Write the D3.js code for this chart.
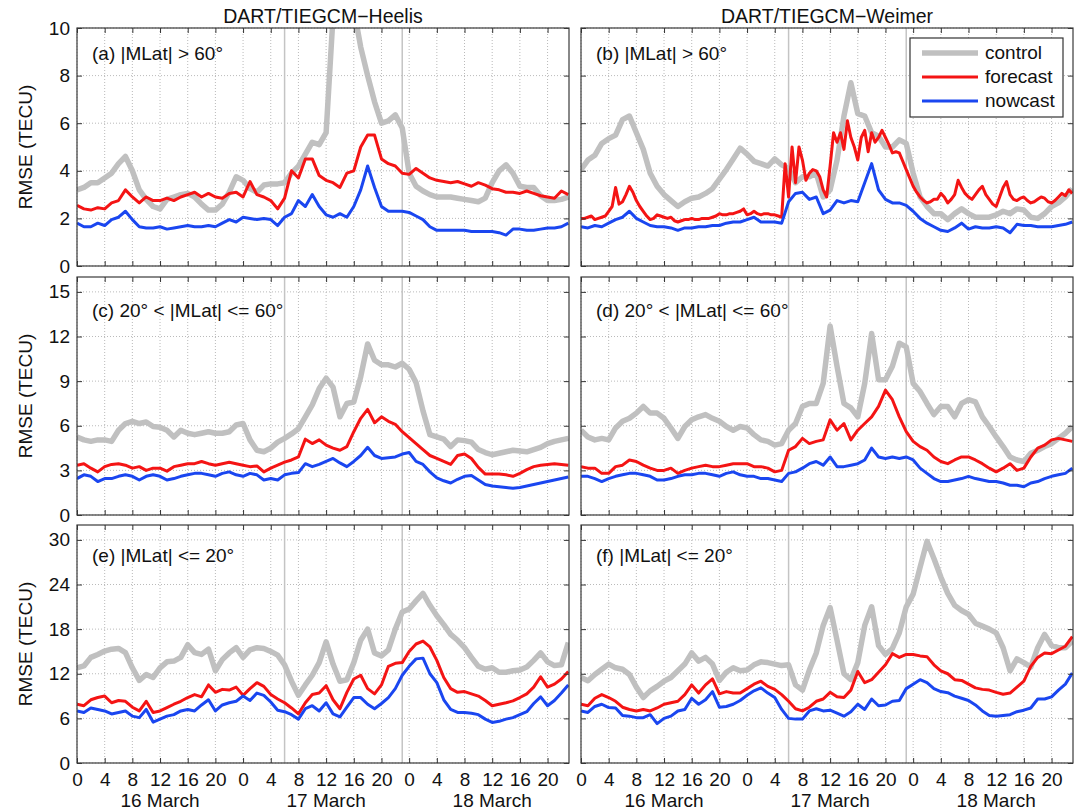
<!DOCTYPE html>
<html>
<head>
<meta charset="utf-8">
<script src="https://cdn.jsdelivr.net/npm/d3@7"></script>
<style>
  body { margin: 0; background: #fff; }
  svg { display: block; font-family: "Liberation Sans", Arial, sans-serif; }
  .tick text { font-size: 19px; fill: #111; }
</style>
</head>
<body>
<svg id="chart" width="1079" height="811"></svg>
<script>
/* axis setup */
const tickHours = [0, 4, 8, 12, 16, 20, 24, 28, 32, 36, 40, 44, 48, 52, 56, 60, 64, 68];
const dayLabels = ["16 March", "17 March", "18 March"];
const dayCentres = [12, 36, 60];
const markerHours = [30, 47];
const columnTitles = ["DART/TIEGCM\u2212Heelis", "DART/TIEGCM\u2212Weimer"];
const rowMax = [10, 16, 32];
const rowTicks = [[0, 2, 4, 6, 8, 10], [0, 3, 6, 9, 12, 15], [0, 6, 12, 18, 24, 30]];
const panelLabels = [
  "(a) |MLat| > 60\u00b0", "(b) |MLat| > 60\u00b0",
  "(c) 20\u00b0 < |MLat| <= 60\u00b0", "(d) 20\u00b0 < |MLat| <= 60\u00b0",
  "(e) |MLat| <= 20\u00b0", "(f) |MLat| <= 20\u00b0"
];
const seriesNames = ["control", "forecast", "nowcast"];

/* hourly RMSE values (TECU), 16 March 00 UT to 18 March 23 UT */
const controlA = [3.2, 3.3, 3.5, 3.5, 3.7, 3.9, 4.3, 4.6, 4.0, 3.2, 2.8, 2.5,
  2.4, 2.8, 2.9, 3.0, 3.05, 2.9, 2.6, 2.35, 2.35, 2.6, 3.1, 3.75,
  3.6, 3.25, 3.1, 3.4, 3.45, 3.45, 3.5, 3.9, 4.2, 4.7, 5.2, 5.1,
  5.6, 10.5, 12, 12.5, 10.8, 9.2, 8.0, 6.9, 6.0, 6.1, 6.35, 5.8,
  3.9, 3.35, 3.15, 3.0, 2.9, 2.9, 2.9, 2.85, 2.8, 2.75, 2.7, 2.85,
  3.5, 4.0, 4.25, 3.9, 3.35, 3.3, 3.3, 2.95, 2.75, 2.75, 2.8, 2.9];
const forecastA = [2.55, 2.4, 2.35, 2.45, 2.4, 2.65, 2.75, 3.2, 2.9, 2.65, 2.9, 2.75,
  2.75, 2.85, 2.75, 2.9, 3.0, 3.1, 2.9, 3.05, 2.9, 2.85, 3.05, 3.1,
  2.9, 3.55, 3.0, 2.9, 2.75, 2.4, 2.85, 4.0, 3.7, 4.5, 4.5, 3.8,
  3.6, 3.5, 3.3, 3.9, 4.0, 5.0, 5.5, 5.5, 4.5, 4.3, 4.2, 3.9,
  3.85, 4.1, 3.9, 3.7, 3.6, 3.55, 3.5, 3.55, 3.45, 3.35, 3.5, 3.4,
  3.25, 3.2, 3.1, 3.1, 3.05, 3.15, 3.05, 2.95, 2.9, 2.85, 3.15, 3.0];
const nowcastA = [1.8, 1.65, 1.65, 1.8, 1.7, 1.95, 2.05, 2.3, 1.95, 1.65, 1.6, 1.6,
  1.65, 1.55, 1.6, 1.65, 1.7, 1.65, 1.65, 1.7, 1.65, 1.8, 1.95, 1.85,
  2.05, 2.0, 1.95, 2.0, 1.95, 1.7, 2.05, 2.2, 2.75, 2.5, 3.0, 2.5,
  2.15, 2.05, 2.2, 2.05, 2.5, 3.2, 4.2, 3.3, 2.5, 2.3, 2.3, 2.3,
  2.25, 2.1, 1.95, 1.65, 1.5, 1.5, 1.5, 1.5, 1.5, 1.45, 1.45, 1.45,
  1.45, 1.4, 1.3, 1.55, 1.55, 1.5, 1.5, 1.55, 1.6, 1.6, 1.65, 1.8];

const controlB = [4.05, 4.45, 4.65, 5.15, 5.35, 5.5, 6.15, 6.3, 5.6, 4.9, 3.9, 3.35,
  3.0, 2.75, 2.5, 2.7, 2.85, 2.9, 3.05, 3.25, 3.65, 4.05, 4.5, 4.95,
  4.7, 4.4, 4.3, 4.2, 4.5, 4.25, 4.1, 3.5, 3.75, 3.75, 3.9, 2.9,
  3.2, 4.45, 6.3, 7.7, 6.4, 6.3, 5.6, 5.45, 5.0, 5.0, 5.3, 5.15,
  3.9, 2.9, 2.5, 2.2, 2.2, 1.95, 2.2, 2.4, 2.2, 2.05, 2.05, 2.05,
  2.15, 2.3, 2.2, 2.4, 2.35, 2.05, 2.0, 2.2, 2.5, 2.65, 2.9, 3.25];
/* half-hourly: the Weimer forecast is spiky */
const forecastB = [2.0, 2.0, 2.05, 2.1, 1.95, 2.0, 2.05, 2.1, 2.3, 2.5,
  3.3, 2.6, 2.7, 3.0, 3.35, 3.1, 2.75, 2.5, 2.3, 2.1,
  1.95, 2.0, 2.15, 2.1, 2.05, 2.0, 2.05, 1.9, 1.85, 1.9,
  1.95, 1.95, 2.0, 1.95, 1.95, 2.0, 2.0, 2.0, 2.05, 2.1,
  2.2, 2.15, 2.15, 2.2, 2.2, 2.25, 2.3, 2.4, 2.15, 2.2,
  2.3, 2.2, 2.15, 2.2, 2.2, 2.15, 2.15, 2.1, 2.05, 4.3,
  2.9, 5.0, 3.5, 5.0, 4.45, 3.6, 3.9, 4.05, 4.0, 3.75,
  3.2, 2.9, 4.2, 5.6, 5.2, 5.6, 4.9, 6.1, 5.4, 5.0,
  4.45, 5.4, 5.7, 4.8, 5.6, 5.2, 5.4, 5.7, 5.4, 5.1,
  4.75, 4.8, 4.75, 4.4, 4.05, 3.7, 3.35, 3.1, 2.9, 2.75,
  2.65, 2.7, 2.8, 2.8, 3.05, 2.9, 2.65, 2.8, 3.0, 3.6,
  3.3, 3.05, 2.9, 2.8, 3.0, 3.2, 3.35, 3.0, 2.8, 2.6,
  2.5, 2.9, 3.3, 3.55, 3.0, 2.8, 2.75, 2.85, 2.9, 2.75,
  2.65, 2.7, 2.8, 2.9, 2.85, 2.7, 2.65, 2.75, 2.9, 3.05,
  2.95, 3.2, 3.05];
const nowcastB = [1.65, 1.6, 1.7, 1.65, 1.8, 1.95, 2.05, 2.3, 2.0, 1.85, 1.7, 1.65,
  1.65, 1.6, 1.5, 1.6, 1.6, 1.65, 1.65, 1.7, 1.7, 1.8, 1.85, 1.85,
  1.95, 2.05, 1.85, 1.85, 1.85, 1.8, 2.7, 3.05, 3.1, 2.8, 2.9, 2.2,
  2.35, 2.75, 2.65, 2.75, 2.7, 3.5, 4.3, 3.2, 2.8, 2.65, 2.65, 2.55,
  2.3, 2.0, 1.8, 1.65, 1.5, 1.45, 1.6, 1.8, 1.55, 1.65, 1.6, 1.6,
  1.65, 1.6, 1.4, 1.75, 1.7, 1.7, 1.65, 1.65, 1.65, 1.7, 1.75, 1.85];

const controlC = [5.25, 5.05, 4.95, 5.05, 5.05, 4.95, 5.7, 6.15, 6.3, 6.15, 6.25, 5.95,
  5.9, 5.7, 5.25, 5.7, 5.5, 5.4, 5.5, 5.6, 5.5, 5.5, 5.6, 6.05,
  6.15, 5.05, 4.35, 4.25, 4.5, 4.9, 5.15, 5.45, 5.8, 6.6, 7.4, 8.5,
  9.2, 8.6, 6.6, 7.5, 7.6, 9.3, 11.5, 10.4, 10.1, 10.1, 9.95, 10.2,
  9.8, 8.9, 7.0, 5.4, 5.25, 5.1, 4.6, 5.05, 5.0, 4.9, 4.4, 4.2,
  4.05, 4.15, 4.25, 4.35, 4.3, 4.25, 4.4, 4.55, 4.8, 4.95, 5.05, 5.15];
const forecastC = [3.35, 3.45, 3.15, 2.9, 3.25, 3.4, 3.45, 3.35, 3.15, 3.25, 3.0, 3.15,
  3.15, 2.95, 3.25, 3.35, 3.45, 3.45, 3.6, 3.45, 3.35, 3.45, 3.55, 3.45,
  3.35, 3.25, 3.3, 2.9, 3.15, 3.35, 3.55, 3.7, 3.9, 5.1, 4.8, 5.05,
  4.7, 4.5, 4.35, 4.6, 5.6, 6.5, 7.1, 6.2, 6.6, 6.3, 6.1, 5.6,
  5.2, 4.8, 4.4, 4.0, 3.8, 3.6, 3.4, 4.0, 4.1, 3.8, 3.2, 2.75,
  2.75, 2.75, 2.7, 2.6, 2.8, 3.05, 3.25, 3.35, 3.4, 3.45, 3.4, 3.35];
const nowcastC = [2.45, 2.7, 2.6, 2.25, 2.45, 2.45, 2.6, 2.7, 2.6, 2.35, 2.6, 2.7,
  2.6, 2.35, 2.45, 2.6, 2.7, 2.8, 2.8, 2.7, 2.6, 2.8, 2.9, 2.7,
  2.6, 2.8, 2.7, 2.35, 2.45, 2.35, 2.7, 2.8, 2.85, 3.45, 3.25, 3.4,
  3.6, 3.8, 3.5, 3.25, 3.6, 4.0, 4.55, 4.0, 3.8, 3.85, 3.9, 4.1,
  4.2, 3.6, 3.4, 2.9, 2.5, 2.3, 2.15, 2.4, 2.6, 2.65, 2.35, 2.05,
  1.95, 1.9, 1.85, 1.8, 1.85, 1.95, 2.05, 2.15, 2.25, 2.35, 2.45, 2.55];

const controlD = [5.7, 5.25, 5.05, 5.15, 5.05, 5.85, 6.3, 6.5, 6.85, 7.3, 6.85, 6.85,
  6.5, 5.85, 5.15, 5.95, 6.4, 6.6, 6.75, 6.5, 6.3, 5.95, 5.7, 5.95,
  5.85, 5.4, 5.05, 4.95, 4.7, 4.8, 5.7, 6.15, 7.3, 7.5, 7.5, 8.85,
  12.7, 10.0, 7.5, 7.2, 6.6, 8.85, 12.2, 9.1, 9.1, 10.0, 11.55, 11.3,
  8.85, 8.3, 7.5, 6.75, 7.3, 7.3, 6.6, 7.5, 7.75, 7.6, 6.6, 5.95,
  5.25, 4.6, 3.9, 3.7, 3.6, 4.15, 4.35, 4.6, 4.8, 5.15, 5.5, 5.95];
const forecastD = [3.25, 3.15, 3.15, 2.8, 2.8, 3.25, 3.35, 3.7, 3.6, 3.35, 3.15, 3.0,
  3.0, 3.15, 2.8, 3.0, 3.15, 3.25, 3.35, 3.25, 3.25, 3.35, 3.45, 3.45,
  3.45, 3.25, 3.25, 3.15, 2.9, 3.0, 4.35, 4.6, 5.15, 4.8, 4.95, 5.05,
  6.4, 5.7, 6.15, 5.05, 5.7, 6.15, 6.6, 7.3, 8.4, 7.75, 6.6, 5.6,
  4.95, 4.6, 4.35, 3.9, 3.6, 3.45, 3.7, 3.9, 3.9, 3.7, 3.45, 3.15,
  2.9, 3.15, 3.45, 3.0, 3.15, 3.9, 4.5, 4.7, 5.05, 5.15, 5.05, 4.95];
const nowcastD = [2.6, 2.6, 2.45, 2.25, 2.45, 2.6, 2.7, 2.8, 2.8, 2.7, 2.6, 2.35,
  2.35, 2.45, 2.6, 2.7, 2.7, 2.8, 2.8, 2.7, 2.6, 2.8, 2.9, 2.7,
  2.6, 2.6, 2.45, 2.45, 2.35, 2.25, 2.8, 2.9, 3.15, 3.45, 3.6, 3.35,
  3.9, 3.25, 3.25, 3.35, 3.45, 3.7, 4.5, 3.9, 3.8, 3.9, 3.8, 3.9,
  3.7, 3.15, 2.8, 2.45, 2.25, 2.25, 2.35, 2.45, 2.6, 2.45, 2.35, 2.25,
  2.25, 2.15, 2.0, 2.0, 1.9, 2.15, 2.25, 2.45, 2.6, 2.7, 2.8, 3.15];

const controlE = [12.8, 13.05, 14.2, 14.6, 15.05, 15.3, 15.4, 14.85, 12.8, 11.1, 11.9, 11.5,
  12.8, 13.6, 13.7, 14.2, 15.9, 14.85, 14.6, 15.3, 12.4, 13.9, 14.8, 15.5,
  14.2, 15.2, 15.5, 15.4, 15.0, 14.5, 13.2, 11.0, 9.1, 10.5, 11.8, 13.5,
  16.3, 13.3, 11.0, 11.2, 13.5, 16.5, 18.0, 14.8, 14.4, 15.2, 18.0, 20.3,
  20.7, 21.8, 22.8, 21.2, 19.8, 18.6, 17.3, 16.5, 15.5, 14.2, 13.0, 12.6,
  12.8, 12.2, 12.2, 12.4, 12.5, 12.9, 13.8, 14.8, 13.6, 13.1, 13.2, 16.2];
const forecastE = [7.9, 7.7, 8.5, 8.8, 9.0, 8.1, 8.4, 8.3, 7.5, 7.0, 8.3, 6.8,
  7.0, 7.45, 7.9, 8.3, 8.8, 9.2, 8.9, 10.5, 9.5, 9.9, 9.8, 10.2,
  9.1, 10.0, 10.8, 10.3, 9.2, 8.6, 8.1, 7.4, 6.6, 8.1, 9.2, 9.4,
  10.4, 8.5, 7.3, 9.5, 11.3, 11.8, 10.0, 9.3, 10.5, 13.0, 13.4, 13.5,
  15.0, 16.0, 16.4, 15.6, 13.8, 11.5, 10.0, 9.5, 9.6, 9.3, 9.0, 8.4,
  7.7, 7.9, 8.1, 8.35, 8.8, 9.3, 10.2, 11.6, 10.2, 10.6, 11.3, 12.3];
const nowcastE = [7.0, 6.8, 7.4, 7.2, 7.0, 6.6, 6.8, 7.0, 6.3, 6.1, 7.2, 5.5,
  5.9, 6.3, 6.5, 7.0, 7.2, 7.0, 7.8, 8.5, 7.0, 7.8, 8.1, 8.3,
  9.0, 8.4, 9.4, 9.1, 8.2, 7.1, 6.9, 6.5, 5.9, 7.3, 7.7, 7.0,
  8.1, 6.6, 6.2, 7.5, 8.8, 8.8, 7.9, 7.3, 8.0, 8.8, 10.0, 11.8,
  13.0, 14.0, 14.1, 12.0, 10.8, 8.5, 7.2, 6.8, 6.8, 6.7, 6.5, 5.9,
  5.45, 5.6, 5.9, 6.1, 6.5, 6.9, 8.0, 8.9, 7.7, 8.4, 9.4, 10.5];

const controlF = [11.5, 11.05, 11.9, 12.6, 13.3, 12.8, 12.6, 11.9, 10.2, 8.8, 9.7, 10.3,
  11.0, 11.5, 12.4, 13.3, 14.8, 13.7, 14.2, 13.3, 11.1, 12.2, 12.8, 12.4,
  12.5, 13.2, 13.6, 13.5, 13.3, 13.1, 13.2, 10.5, 9.8, 12.5, 14.8, 18.5,
  20.9, 16.5, 12.0, 11.2, 13.5, 18.5, 21.0, 15.8, 14.6, 15.4, 17.5, 21.0,
  22.7, 26.3, 29.8, 27.5, 25.0, 22.8, 21.2, 20.5, 20.0, 18.8, 18.4, 18.0,
  17.5, 15.5, 12.4, 14.0, 13.5, 12.9, 15.5, 17.3, 15.8, 15.5, 15.5, 16.4];
const forecastF = [7.9, 7.7, 8.7, 9.2, 8.8, 8.3, 7.5, 7.2, 7.0, 7.2, 7.0, 7.4,
  7.9, 8.1, 8.3, 9.2, 10.5, 9.4, 10.5, 11.3, 9.3, 9.6, 9.4, 9.4,
  10.0, 10.6, 11.0, 10.3, 9.9, 9.2, 8.3, 7.3, 7.0, 7.5, 8.3, 8.6,
  9.5, 8.9, 8.8, 9.8, 12.3, 10.8, 11.2, 12.2, 13.2, 14.7, 14.2, 14.6,
  14.6, 14.4, 14.3, 13.2, 12.4, 12.0, 11.2, 11.1, 10.6, 10.1, 9.9, 9.8,
  9.5, 9.25, 9.4, 10.2, 11.0, 13.0, 14.2, 14.8, 14.7, 15.2, 15.7, 17.0];
const nowcastF = [7.0, 6.8, 7.6, 7.9, 7.45, 7.4, 6.4, 6.3, 6.1, 6.1, 6.5, 5.3,
  6.0, 6.3, 7.0, 7.2, 8.7, 7.9, 8.5, 9.6, 7.5, 7.6, 7.9, 8.4,
  9.1, 9.7, 10.1, 9.4, 8.8, 7.2, 6.0, 5.9, 5.9, 7.0, 7.3, 7.0,
  7.1, 6.7, 6.3, 6.9, 7.9, 7.2, 8.6, 7.7, 7.8, 8.3, 8.4, 10.0,
  10.6, 11.2, 10.8, 10.0, 9.6, 9.45, 9.0, 8.7, 8.4, 7.8, 7.0, 6.4,
  6.3, 6.4, 6.5, 6.9, 7.1, 7.4, 8.6, 8.6, 8.9, 9.8, 10.6, 12.1];

const panelSeries = [
  [controlA, forecastA, nowcastA], [controlB, forecastB, nowcastB],
  [controlC, forecastC, nowcastC], [controlD, forecastD, nowcastD],
  [controlE, forecastE, nowcastE], [controlF, forecastF, nowcastF]
];

// layout
const colLeft = [77, 581];
const plotW = 492;
const rowTop = [28, 277, 525];
const plotH = 238;
const labelOffset = [32, 40, 37];
const lastHour = 71;
const colors = { control: "#c0c0c0", forecast: "#f41414", nowcast: "#1a46f0" };
const widths = { control: 5.5, forecast: 3, nowcast: 3 };

const svg = d3.select("#chart");
svg.append("rect").attr("width", 1079).attr("height", 811).attr("fill", "#fff");

const x = d3.scaleLinear().domain([0, 71.1]).range([0, plotW]);

panelSeries.forEach((series, p) => {
  const row = Math.floor(p / 2), col = p % 2;
  const y = d3.scaleLinear().domain([0, rowMax[row]]).range([plotH, 0]);
  const g = svg.append("g").attr("transform", `translate(${colLeft[col]},${rowTop[row]})`);

  const clipId = `clip-${p}`;
  g.append("clipPath").attr("id", clipId)
    .append("rect").attr("width", plotW).attr("height", plotH);

  // dotted grid
  g.append("g").selectAll("line").data(tickHours).join("line")
    .attr("x1", d => x(d)).attr("x2", d => x(d))
    .attr("y1", 0).attr("y2", plotH)
    .attr("stroke", "#a8a8a8").attr("stroke-width", 0.8).attr("stroke-dasharray", "1,2");
  g.append("g").selectAll("line").data(rowTicks[row]).join("line")
    .attr("x1", 0).attr("x2", plotW)
    .attr("y1", d => y(d)).attr("y2", d => y(d))
    .attr("stroke", "#a8a8a8").attr("stroke-width", 0.8).attr("stroke-dasharray", "1,2");

  // event markers
  g.append("g").selectAll("line").data(markerHours).join("line")
    .attr("x1", d => x(d)).attr("x2", d => x(d))
    .attr("y1", 0).attr("y2", plotH)
    .attr("stroke", "#c4c4c4").attr("stroke-width", 1.5);

  // curves
  const line = d3.line().x(d => x(d[0])).y(d => y(d[1]));
  const lines = g.append("g").attr("clip-path", `url(#${clipId})`);
  series.forEach((values, s) => {
    const name = seriesNames[s];
    const step = lastHour / (values.length - 1);
    lines.append("path")
      .datum(values.map((v, i) => [i * step, v]))
      .attr("fill", "none")
      .attr("stroke", colors[name])
      .attr("stroke-width", widths[name])
      .attr("stroke-linejoin", "round")
      .attr("d", line);
  });

  // inward ticks on all four sides
  const bottom = d3.axisBottom(x).tickValues(tickHours).tickSize(-5).tickPadding(10)
    .tickFormat(row === 2 ? (h => h % 24) : "");
  const top = d3.axisTop(x).tickValues(tickHours).tickSize(-5).tickFormat("");
  const left = d3.axisLeft(y).tickValues(rowTicks[row]).tickSize(-5).tickPadding(7)
    .tickFormat(col === 0 ? d3.format("d") : "");
  const right = d3.axisRight(y).tickValues(rowTicks[row]).tickSize(-5).tickFormat("");

  [[bottom, `translate(0,${plotH})`], [top, null], [left, null], [right, `translate(${plotW},0)`]]
    .forEach(([axis, tr]) => {
      const a = g.append("g").call(axis);
      if (tr) a.attr("transform", tr);
      a.select(".domain").remove();
      a.selectAll(".tick line").attr("stroke", "#333");
    });

  g.append("rect").attr("width", plotW).attr("height", plotH)
    .attr("fill", "none").attr("stroke", "#3a3a3a").attr("stroke-width", 1.2);

  g.append("text")
    .attr("x", 15).attr("y", labelOffset[row])
    .attr("font-size", 19).attr("fill", "#111")
    .text(panelLabels[p]);

  if (col === 0) {
    svg.append("text")
      .attr("transform", `translate(32,${rowTop[row] + plotH / 2}) rotate(-90)`)
      .attr("text-anchor", "middle").attr("font-size", 19).attr("fill", "#111")
      .text("RMSE (TECU)");
  }
  if (row === 2) {
    g.append("g").selectAll("text").data(dayLabels).join("text")
      .attr("x", (d, i) => x(dayCentres[i])).attr("y", plotH + 44)
      .attr("text-anchor", "middle").attr("font-size", 19).attr("fill", "#111")
      .text(d => d);
  }
  if (row === 0) {
    g.append("text")
      .attr("x", plotW / 2).attr("y", -5)
      .attr("text-anchor", "middle").attr("font-size", 19.5).attr("fill", "#111")
      .text(columnTitles[col]);
  }
});

// legend in panel (b)
const legend = svg.append("g").attr("transform", "translate(910,38)");
legend.append("rect").attr("width", 153).attr("height", 79)
  .attr("fill", "#fff").attr("stroke", "#333").attr("stroke-width", 1.2);
seriesNames.forEach((name, i) => {
  const ly = 15 + i * 24;
  legend.append("line")
    .attr("x1", 12).attr("x2", 68).attr("y1", ly).attr("y2", ly)
    .attr("stroke", colors[name]).attr("stroke-width", widths[name]);
  legend.append("text")
    .attr("x", 75).attr("y", ly + 6)
    .attr("font-size", 19).attr("fill", "#111")
    .text(name);
});
</script>
</body>
</html>
